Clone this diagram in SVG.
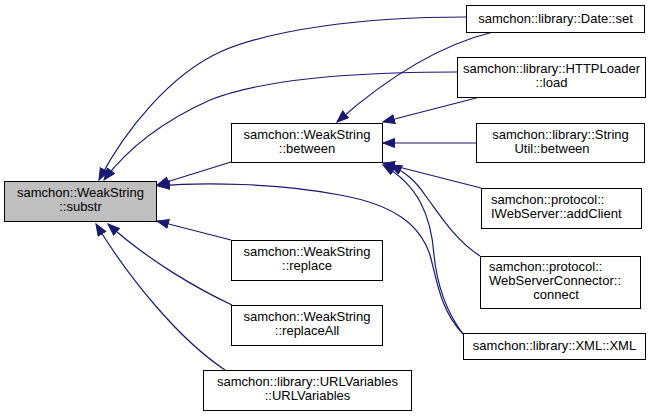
<svg xmlns="http://www.w3.org/2000/svg" width="660" height="417" viewBox="0 0 660 417">
<style>
.n rect{fill:#ffffff;stroke:#000000;stroke-width:1}
.n.hl rect{fill:#bfbfbf}
.n text{font-family:"Liberation Sans",Arial,sans-serif;font-size:13px;fill:#000000;text-anchor:middle}
.n text.l{text-anchor:start}
.e path{fill:none;stroke:#191970;stroke-width:1.2;marker-end:url(#ah)}
</style>
<defs>
<marker id="ah" markerUnits="userSpaceOnUse" markerWidth="14" markerHeight="12" refX="12" refY="5" orient="auto">
<path d="M0.5,0.5 L12,5 L0.5,9.5 Z" fill="#191970" stroke="#191970" stroke-width="1"/>
</marker>
</defs>
<rect width="660" height="417" fill="#ffffff"/>
<g id="edges" class="e">
<path d="M231,162 L157,185"/>
<path d="M231,240 L157,221"/>
<path d="M232,305 C200,290 150,262 108,224"/>
<path d="M225,370 C180,340 130,280 96,224"/>
<path d="M466,17 C360,17 270,30 220,52 C170,75 125,130 99,180"/>
<path d="M457,72 C350,72 260,80 210,100 C170,118 130,145 104,180"/>
<path d="M463,334 C440,310 437,280 430,255 C420,225 395,205 340,195 C280,183 200,182 158,186"/>
<path d="M480,97 L383,122"/>
<path d="M493,32 C440,45 390,75 337,122"/>
<path d="M476,143 L383,143"/>
<path d="M481,188 L383,163"/>
<path d="M480,256 C455,240 440,215 425,195 C415,180 405,172 390,165"/>
<path d="M463,334 C445,310 437,285 434,255 C431,215 418,185 383,165"/>
</g>
<g id="substr" class="n hl"><rect x="4.5" y="181.5" width="152" height="40"/><text x="80.5" y="196.5">samchon::WeakString</text><text x="80.5" y="210.5">::substr</text></g>
<g id="between" class="n"><rect x="231.5" y="123.5" width="151" height="39"/><text x="307" y="138.5">samchon::WeakString</text><text x="307" y="152.5">::between</text></g>
<g id="replace" class="n"><rect x="231.5" y="240.5" width="151" height="40"/><text x="307" y="255.5">samchon::WeakString</text><text x="307" y="269.5">::replace</text></g>
<g id="replaceAll" class="n"><rect x="231.5" y="305.5" width="151" height="40"/><text x="307" y="320.5">samchon::WeakString</text><text x="307" y="334.5">::replaceAll</text></g>
<g id="urlvariables" class="n"><rect x="203.5" y="370.5" width="208" height="40"/><text x="307.5" y="385.5">samchon::library::URLVariables</text><text x="307.5" y="399.5">::URLVariables</text></g>
<g id="dateset" class="n"><rect x="466.5" y="5.5" width="178" height="27"/><text x="555.5" y="22.5">samchon::library::Date::set</text></g>
<g id="httploader" class="n"><rect x="457.5" y="57.5" width="188" height="40"/><text x="551.5" y="72.5">samchon::library::HTTPLoader</text><text x="551.5" y="86.5">::load</text></g>
<g id="stringutil" class="n"><rect x="476.5" y="123.5" width="168" height="39"/><text x="560.5" y="138.5">samchon::library::String</text><text x="552" y="152.5">Util::between</text></g>
<g id="iwebserver" class="n"><rect x="481.5" y="188.5" width="160" height="40"/><text class="l" x="491" y="203.5">samchon::protocol::</text><text class="l" x="491" y="217.5">IWebServer::addClient</text></g>
<g id="webserverconnector" class="n"><rect x="480.5" y="256.5" width="160" height="52"/><text class="l" x="489" y="270.5">samchon::protocol::</text><text class="l" x="489" y="284.5">WebServerConnector::</text><text x="556" y="298.5">connect</text></g>
<g id="xml" class="n"><rect x="463.5" y="333.5" width="182" height="26"/><text x="554.5" y="349.5">samchon::library::XML::XML</text></g>
</svg>
